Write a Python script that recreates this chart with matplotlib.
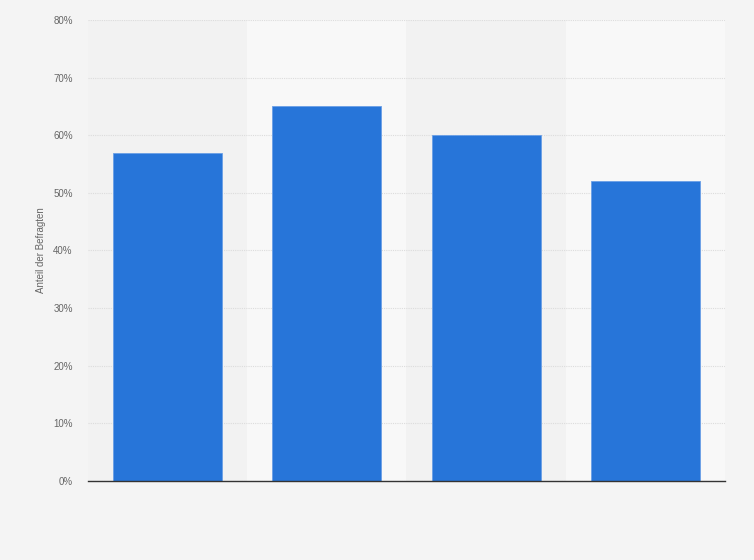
import matplotlib.pyplot as plt
from matplotlib.ticker import FuncFormatter

plt.rcParams['font.family'] = ['Liberation Sans', 'DejaVu Sans']

# --- DATA ---
categories = ["", "", "", ""]          # no category labels visible in the reference
shares = [57, 65, 60, 52]              # Anteil der Befragten in %
y_ticks = [0, 10, 20, 30, 40, 50, 60, 70, 80]

BG = '#f4f4f4'
BAND_DARK = '#f2f2f2'
BAND_LIGHT = '#f8f8f8'
BAR_COLOR = '#2775d9'

fig = plt.figure(figsize=(7.54, 5.6), dpi=100, facecolor=BG)
ax = fig.add_axes([0.1167, 0.1411, 0.9615 - 0.1167, 0.9643 - 0.1411])
ax.set_facecolor(BAND_DARK)

x = list(range(len(shares)))

# alternating column bands
for i in x:
    ax.axvspan(i - 0.5, i + 0.5, color=BAND_LIGHT if i % 2 else BAND_DARK, zorder=0, lw=0)

ax.bar(x, shares, width=0.685, color=BAR_COLOR, edgecolor='#6a9fe6', linewidth=0.6, zorder=3)

ax.set_xlim(-0.5, len(shares) - 0.5)
ax.set_ylim(0, 80)
ax.set_yticks(y_ticks)
ax.yaxis.set_major_formatter(FuncFormatter(lambda v, p: f"{v:.0f}%"))
ax.set_xticks(x)
ax.set_xticklabels(categories)

ax.grid(axis='y', color='#dcdcdc', linestyle=(0, (1, 1)), linewidth=0.8, zorder=1)
ax.tick_params(axis='y', length=0, labelsize=7, labelcolor='#666666', pad=11)
ax.tick_params(axis='x', length=0)

for s in ['top', 'right', 'left']:
    ax.spines[s].set_visible(False)
ax.spines['bottom'].set_color('#333333')
ax.spines['bottom'].set_linewidth(1.0)
ax.spines['bottom'].set_zorder(4)

ax.set_ylabel("Anteil der Befragten", fontsize=7, color='#666666', labelpad=5)

plt.savefig('out.png', dpi=100, facecolor=BG)
